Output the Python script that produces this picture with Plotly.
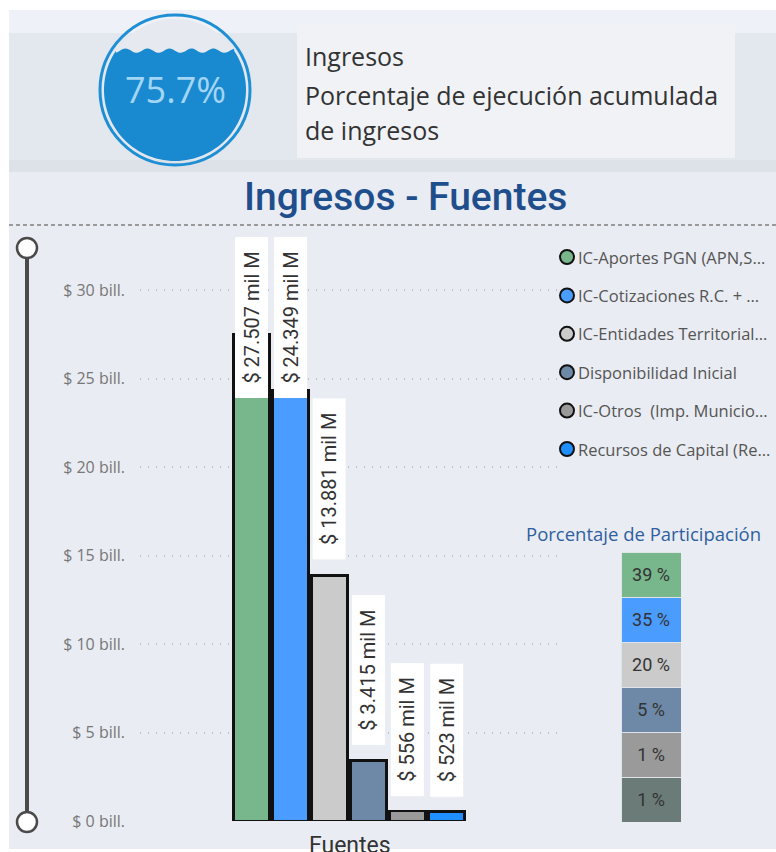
import math
import plotly.graph_objects as go

# ---------------- data ----------------
categories = [
    "IC-Aportes PGN (APN,S…",
    "IC-Cotizaciones R.C. + …",
    "IC-Entidades Territorial…",
    "Disponibilidad Inicial",
    "IC-Otros  (Imp. Municio…",
    "Recursos de Capital (Re…",
]
values_mil_m = [27507, 24349, 13881, 3415, 556, 523]
bar_colors = ["#78b68c", "#4b9cff", "#cbcbcb", "#6e89a8", "#9a9a9a", "#1f8fff"]
stack_colors = ["#78b68c", "#4b9cff", "#cbcbcb", "#6e89a8", "#9a9a9a", "#6b7b78"]
y_tick_values = [0, 5, 10, 15, 20, 25, 30]
y_tick_labels = ["$ %d bill." % v for v in y_tick_values]
execution_pct = 75.7

W = 776
H_VIEW = 852      # picture height used for layout positions
H_FIG = 863       # rendered figure height


def px(x):
    return x / W


def py(y):
    return 1 - y / H_VIEW


values_bill = [v / 1000 for v in values_mil_m]
total = sum(values_mil_m)
pcts = [round(v / total * 100) for v in values_mil_m]
NB = "\u00a0\u00a0"
labels = [NB + "$ " + format(v, ",").replace(",", ".") + " mil M" + NB for v in values_mil_m]

Y_MAX = 33
fig = go.Figure()

# main bars
fig.add_trace(go.Bar(
    x=categories, y=values_bill,
    marker=dict(color=bar_colors, line=dict(color="#111111", width=2.5)),
    width=0.92, showlegend=False, hoverinfo="skip",
    xaxis="x", yaxis="y",
))

# participation stack (top item first visually)
for i in reversed(range(len(categories))):
    fig.add_trace(go.Bar(
        x=["Participación"], y=[1],
        marker=dict(color=stack_colors[i], line=dict(color="#dfe3ea", width=1)),
        text=["%d %%" % pcts[i]], textposition="inside", insidetextanchor="middle",
        textfont=dict(family="Roboto", size=18, color="#333333"),
        width=1, showlegend=False, hoverinfo="skip",
        xaxis="x2", yaxis="y2",
    ))

shapes = []
# backgrounds
shapes.append(dict(type="rect", xref="paper", yref="paper", x0=px(9), x1=1, y0=py(33), y1=py(10),
                   fillcolor="#eef1f7", line=dict(width=0), layer="below"))
shapes.append(dict(type="rect", xref="paper", yref="paper", x0=px(9), x1=1, y0=py(160), y1=py(33),
                   fillcolor="#e3e7ee", line=dict(width=0), layer="below"))
shapes.append(dict(type="rect", xref="paper", yref="paper", x0=px(9), x1=1, y0=py(172), y1=py(160),
                   fillcolor="#dde1e8", line=dict(width=0), layer="below"))
shapes.append(dict(type="rect", xref="paper", yref="paper", x0=px(9), x1=1, y0=py(849), y1=py(172),
                   fillcolor="#e9ecf2", line=dict(width=0), layer="below"))
# header text box
shapes.append(dict(type="rect", xref="paper", yref="paper", x0=px(297), x1=px(735), y0=py(158), y1=py(24),
                   fillcolor="#f0f2f6", line=dict(width=0), layer="below"))

# liquid-fill gauge
cx, cy, r_out, r_in = 175, 90, 75, 71
shapes.append(dict(type="circle", xref="paper", yref="paper",
                   x0=px(cx - r_in), x1=px(cx + r_in), y0=py(cy + r_in), y1=py(cy - r_in),
                   fillcolor="#e6e9ef", line=dict(width=0), layer="below"))
wave_y = cy + r_in - 2 * r_in * (execution_pct + 2) / 100
half_w = math.sqrt(max(r_in ** 2 - (wave_y - cy) ** 2, 0))
pts = []
n = 60
for k in range(n + 1):
    x = cx - half_w + 2 * half_w * k / n
    y = wave_y + 2.2 * math.sin((x - cx) / 22 * 2 * math.pi)
    pts.append((x, y))
a0 = math.atan2(wave_y - cy, half_w)
a1 = math.pi - a0
for k in range(81):
    a = a0 + (a1 - a0) * k / 80
    pts.append((cx + r_in * math.cos(a), cy + r_in * math.sin(a)))
path = "M " + " L ".join("%.5f,%.5f" % (px(x), py(y)) for x, y in pts) + " Z"
shapes.append(dict(type="path", xref="paper", yref="paper", path=path,
                   fillcolor="#1a8ad0", line=dict(width=0), layer="below"))
shapes.append(dict(type="circle", xref="paper", yref="paper",
                   x0=px(cx - r_out), x1=px(cx + r_out), y0=py(cy + r_out), y1=py(cy - r_out),
                   fillcolor="rgba(0,0,0,0)", line=dict(color="#1e8fd5", width=3)))

# dashed separator
shapes.append(dict(type="line", xref="paper", yref="paper", x0=px(9), x1=1, y0=py(225), y1=py(225),
                   line=dict(color="#9a9a9a", width=2, dash="4px,3px")))

# slider
shapes.append(dict(type="line", xref="paper", yref="paper", x0=px(27), x1=px(27), y0=py(248), y1=py(822),
                   line=dict(color="#4a4a4a", width=4)))
for yy in (248, 822):
    shapes.append(dict(type="circle", xref="paper", yref="paper",
                       x0=px(27 - 10), x1=px(27 + 10), y0=py(yy + 10), y1=py(yy - 10),
                       fillcolor="white", line=dict(color="#4a4a4a", width=2.5)))

# legend markers
leg_y0, leg_dy = 257, 38.4
for i, c in enumerate(bar_colors):
    yy = leg_y0 + leg_dy * i
    shapes.append(dict(type="circle", xref="paper", yref="paper",
                       x0=px(567 - 7), x1=px(567 + 7), y0=py(yy + 7), y1=py(yy - 7),
                       fillcolor=c, line=dict(color="#111111", width=2)))

annotations = []
# header texts
for txt, yy in (("Ingresos", 56), ("Porcentaje de ejecución acumulada", 95), ("de ingresos", 130)):
    annotations.append(dict(text=txt, xref="paper", yref="paper", x=px(303), y=py(yy),
                            xanchor="left", yanchor="middle", showarrow=False,
                            font=dict(family="Open Sans", size=25, color="#333333")))
annotations.append(dict(text="%.1f%%" % execution_pct, xref="paper", yref="paper", x=px(cx), y=py(cy),
                        xanchor="center", yanchor="middle", showarrow=False,
                        font=dict(family="Open Sans", size=36, color="#a3d5f5")))
annotations.append(dict(text="Ingresos - Fuentes", xref="paper", yref="paper", x=px(405), y=py(197),
                        xanchor="center", yanchor="middle", showarrow=False,
                        font=dict(family="Roboto", size=39, color="#1f4e8c", weight=500)))
annotations.append(dict(text="Fuentes", xref="paper", yref="paper", x=px(350), y=py(845),
                        xanchor="center", yanchor="middle", showarrow=False,
                        font=dict(family="Roboto", size=23, color="#333333")))
annotations.append(dict(text="Porcentaje de Participación", xref="paper", yref="paper", x=px(643), y=py(533),
                        xanchor="center", yanchor="middle", showarrow=False,
                        font=dict(family="Open Sans", size=18.5, color="#2f5f9e")))
# legend texts
for i, name in enumerate(categories):
    yy = leg_y0 + leg_dy * i
    annotations.append(dict(text=name, xref="paper", yref="paper", x=px(576), y=py(yy),
                            xanchor="left", yanchor="middle", showarrow=False,
                            font=dict(family="Open Sans", size=16.5, color="#555555")))

# bar data labels
label_h = 10.0
for cat, v, lab in zip(categories, values_bill, labels):
    common = dict(text=lab, xref="x", yref="y", x=cat, textangle=-90, showarrow=False,
                  bgcolor="white", borderpad=4,
                  font=dict(family="Roboto", size=20, color="#333333"))
    if v + label_h > Y_MAX:
        annotations.append(dict(y=Y_MAX, yanchor="top", **common))
    else:
        annotations.append(dict(y=v, yanchor="bottom", yshift=15, **common))

fig.update_layout(
    width=W, height=H_FIG,
    margin=dict(l=0, r=0, t=0, b=0),
    paper_bgcolor="white", plot_bgcolor="rgba(0,0,0,0)",
    barmode="stack", bargap=0.08,
    showlegend=False,
    shapes=shapes, annotations=annotations,
    xaxis=dict(domain=[px(140), px(558)], range=[-2.86, 7.86], showticklabels=False,
               showgrid=False, zeroline=False, showline=False, fixedrange=True),
    yaxis=dict(domain=[py(821), py(237)], range=[0, Y_MAX], tickvals=y_tick_values, ticktext=y_tick_labels,
               showgrid=True, gridcolor="#bfc3c9", griddash="1px,7px", gridwidth=1.5, zeroline=False,
               ticks="", ticklabelstandoff=14,
               tickfont=dict(family="Open Sans", size=16, color="#777777")),
    xaxis2=dict(domain=[px(621), px(681)], range=[-0.5, 0.5], showticklabels=False, showgrid=False,
                zeroline=False, anchor="y2"),
    yaxis2=dict(domain=[py(822), py(552)], range=[0, 6], showticklabels=False, showgrid=False,
                zeroline=False, anchor="x2"),
)

fig.write_html(
    "out.html",
    config={"displayModeBar": False},
    post_script="document.body.style.margin='0';document.body.style.overflow='hidden';",
)
